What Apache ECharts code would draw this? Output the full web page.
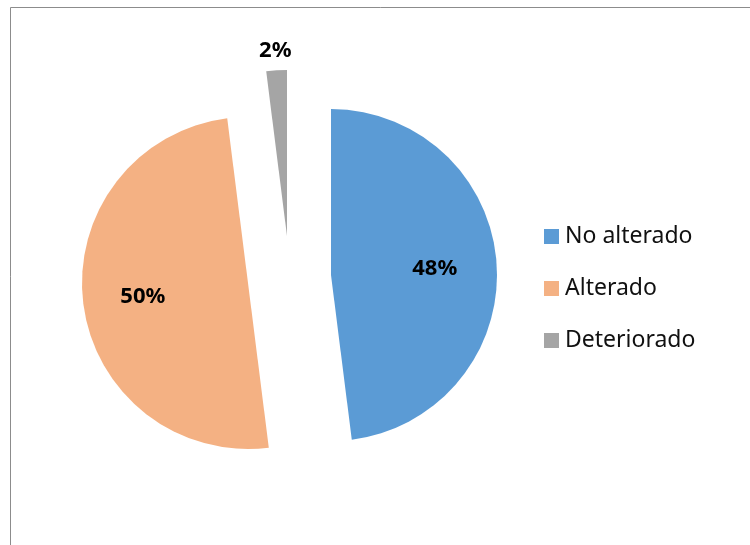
<!DOCTYPE html>
<html>
<head>
<meta charset="utf-8">
<title>Estado</title>
<script src="https://cdn.jsdelivr.net/npm/echarts@6/dist/echarts.min.js"></script>
<style>
  html, body { margin: 0; padding: 0; background: #ffffff; }
  #chart { width: 750px; height: 545px; }
</style>
</head>
<body>
<div id="chart"></div>
<script>
// Categories and shares (percent)
const categories = ['No alterado', 'Alterado', 'Deteriorado'];
const values = [48, 50, 2];

// Styling and layout for each slice (exploded pie: each slice has its own centre)
const colors = ['#5B9BD5', '#F4B183', '#A5A5A5'];
const sliceCenters = [[331, 275], [248, 283], [287, 236]];
const sliceRadius = 166;
const labelDistances = [101, 103, 183]; // distance of each value label from its slice centre

const chart = echarts.init(document.getElementById('chart'), null, { renderer: 'canvas' });

const series = [];

// One pie per slice so every slice can be pulled out on its own
categories.forEach((name, i) => {
  series.push({
    type: 'pie',
    center: sliceCenters[i],
    radius: [0, sliceRadius],
    startAngle: 90,
    clockwise: true,
    silent: true,
    animation: false,
    avoidLabelOverlap: false,
    label: { show: false },
    labelLine: { show: false },
    emphasis: { disabled: true },
    data: categories.map((n, j) => ({
      name: n,
      value: values[j],
      itemStyle: { color: j === i ? colors[j] : 'rgba(0,0,0,0)', borderWidth: 0 }
    }))
  });
});

// Value labels: transparent pies whose "inside" label point lands at the wanted distance
categories.forEach((name, i) => {
  series.push({
    type: 'pie',
    center: sliceCenters[i],
    radius: [0, labelDistances[i] * 2],
    startAngle: 90,
    clockwise: true,
    silent: true,
    animation: false,
    avoidLabelOverlap: false,
    labelLine: { show: false },
    emphasis: { disabled: true },
    z: 5,
    data: categories.map((n, j) => ({
      name: n,
      value: values[j],
      itemStyle: { color: 'rgba(0,0,0,0)', borderWidth: 0 },
      label: {
        show: j === i,
        position: 'inside',
        rotate: 0,
        formatter: '{c}%',
        color: '#000000',
        fontFamily: 'Noto Sans',
        fontWeight: 'bold',
        fontSize: 22
      }
    }))
  });
});

chart.setOption({
  backgroundColor: '#ffffff',
  animation: false,
  legend: {
    orient: 'vertical',
    left: 544,
    top: 225,
    padding: 0,
    itemWidth: 15,
    itemHeight: 15,
    itemGap: 29,
    icon: 'rect',
    selectedMode: false,
    textStyle: { fontFamily: 'Noto Sans', fontSize: 23, color: '#111111', padding: [0, 0, 0, 1] },
    data: categories.map((n, i) => ({ name: n, itemStyle: { color: colors[i] } }))
  },
  graphic: [{
    type: 'rect',
    silent: true,
    shape: { x: 10.5, y: 7.5, width: 900, height: 700 },
    style: { fill: 'none', stroke: '#8c8c8c', lineWidth: 1 }
  }],
  series: series
});
</script>
</body>
</html>
